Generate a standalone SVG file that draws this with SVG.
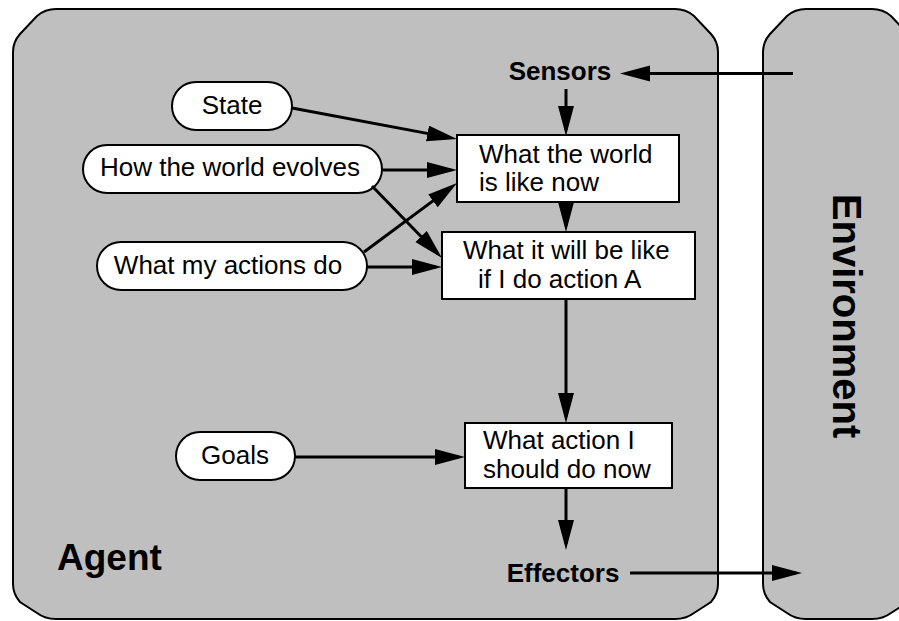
<svg xmlns="http://www.w3.org/2000/svg" width="899" height="621" viewBox="0 0 899 621">
  <style>
    .panel { fill: #bfbfbf; stroke: #000; stroke-width: 2; }
    .oval { fill: #fff; stroke: #000; stroke-width: 2; }
    .box { fill: #fff; stroke: #000; stroke-width: 2; }
    .lbl { font-family: "Liberation Sans", Arial, sans-serif; font-size: 26px; fill: #000; }
    .bold { font-family: "Liberation Sans", Arial, sans-serif; font-weight: bold; fill: #000; }
    .conn { stroke: #000; stroke-width: 3; fill: none; marker-end: url(#arrow); }
  </style>
  <defs>
    <marker id="arrow" markerUnits="userSpaceOnUse" markerWidth="32" markerHeight="18" refX="24" refY="8" orient="auto">
      <path d="M0,0 L30,8 L0,16 z" fill="#000"/>
    </marker>
  </defs>

  <rect width="899" height="621" fill="#fff"/>

  <!-- agent panel -->
  <g id="agent">
    <path class="panel" d="M13,52 Q13,42 20,34 L37,16 Q45,9 56,9 L675,9 Q686,9 694,16 L711,34 Q718,42 718,52 L718,584 Q718,594 711,602 L694,613 Q686,619 675,619 L56,619 Q45,619 37,613 L20,602 Q13,594 13,584 Z"/>
    <text class="bold" x="57" y="570" font-size="37">Agent</text>
  </g>

  <!-- environment panel -->
  <g id="environment">
    <path class="panel" d="M763,52 Q763,42 770,34 L787,16 Q795,9 806,9 L872,9 Q883,9 891,16 L908,34 Q915,42 915,52 L915,584 Q915,594 908,602 L891,613 Q883,619 872,619 L806,619 Q795,619 787,613 L770,602 Q763,594 763,584 Z"/>
    <text class="bold" font-size="40" text-anchor="middle" transform="translate(833,316) rotate(90)">Environment</text>
  </g>

  <g id="sensors">
    <text class="bold" x="560" y="80" font-size="26" text-anchor="middle">Sensors</text>
  </g>
  <g id="effectors">
    <text class="bold" x="563" y="582" font-size="26" text-anchor="middle">Effectors</text>
  </g>

  <g id="state">
    <rect class="oval" x="172" y="82" width="120" height="48" rx="24" ry="24"/>
    <text class="lbl" x="232" y="114" text-anchor="middle">State</text>
  </g>
  <g id="world-evolves">
    <rect class="oval" x="83" y="145" width="299" height="48" rx="24" ry="24"/>
    <text class="lbl" x="230" y="176" text-anchor="middle">How the world evolves</text>
  </g>
  <g id="actions-do">
    <rect class="oval" x="97" y="242" width="270" height="48" rx="24" ry="24"/>
    <text class="lbl" x="228" y="274" text-anchor="middle">What my actions do</text>
  </g>
  <g id="goals">
    <rect class="oval" x="176" y="432" width="119" height="48" rx="24" ry="24"/>
    <text class="lbl" x="235" y="464" text-anchor="middle">Goals</text>
  </g>

  <g id="world-now">
    <rect class="box" x="457" y="135" width="222" height="67"/>
    <text class="lbl" x="479" y="163">What the world</text>
    <text class="lbl" x="479" y="191">is like now</text>
  </g>
  <g id="will-be-like">
    <rect class="box" x="442" y="232" width="253" height="67"/>
    <text class="lbl" x="463" y="259">What it will be like</text>
    <text class="lbl" x="478" y="288">if I do action A</text>
  </g>
  <g id="action-now">
    <rect class="box" x="465" y="423" width="207" height="65"/>
    <text class="lbl" x="483" y="449">What action I</text>
    <text class="lbl" x="483" y="478">should do now</text>
  </g>

  <!-- connectors: each line stops 6px short of its arrow tip -->
  <g id="connectors">
    <line class="conn" x1="793" y1="73.5" x2="626" y2="73.5"/>
    <line class="conn" x1="566" y1="89" x2="566" y2="130"/>
    <line class="conn" x1="566" y1="202" x2="566" y2="226"/>
    <line class="conn" x1="566" y1="299" x2="566" y2="417"/>
    <line class="conn" x1="566" y1="488" x2="566" y2="544"/>
    <line class="conn" x1="630" y1="573" x2="796" y2="573"/>
    <line class="conn" x1="292" y1="108" x2="451.1" y2="137.9"/>
    <line class="conn" x1="382" y1="170" x2="451" y2="170"/>
    <line class="conn" x1="372" y1="186" x2="437.8" y2="253.7"/>
    <line class="conn" x1="364" y1="252" x2="452.2" y2="186.6"/>
    <line class="conn" x1="367" y1="267" x2="436" y2="267"/>
    <line class="conn" x1="295" y1="457" x2="459" y2="457"/>
  </g>
</svg>
